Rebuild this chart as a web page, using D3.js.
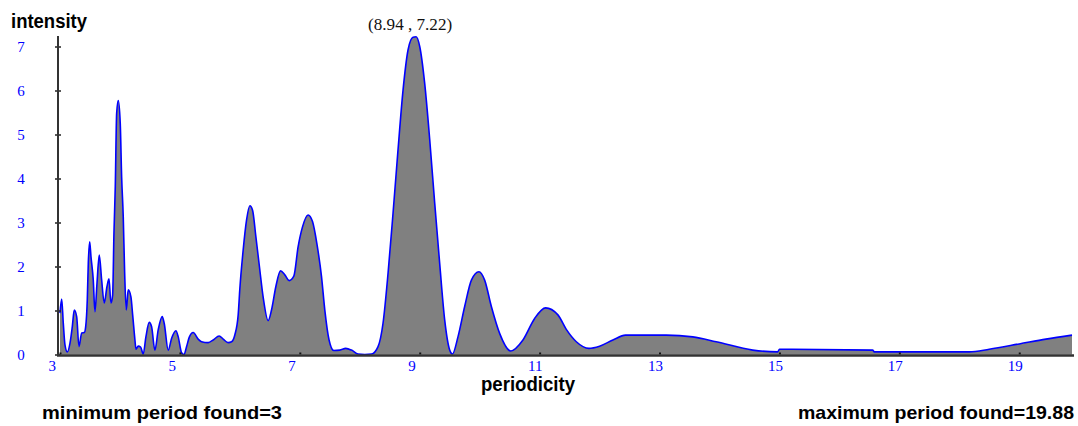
<!DOCTYPE html>
<html>
<head>
<meta charset="utf-8">
<script src="https://cdn.jsdelivr.net/npm/d3@7"></script>
<style>
  html, body { margin: 0; padding: 0; background: #fff; }
  svg { display: block; }
</style>
</head>
<body>
<svg id="chart" width="1078" height="426"></svg>
<script>
// ---- data ----
const periods = [
  3.000, 3.028, 3.055, 3.083, 3.122, 3.167, 3.205, 3.238, 3.278, 3.317,
  3.362, 3.405, 3.428, 3.455, 3.472, 3.495, 3.517, 3.555, 3.583, 3.617,
  3.655, 3.695, 3.738, 3.783, 3.817, 3.850, 3.878, 3.900, 3.922, 3.945,
  3.972, 4.005, 4.028, 4.055, 4.078, 4.105, 4.138, 4.183, 4.212, 4.250,
  4.267, 4.305, 4.345, 4.388, 4.433, 4.488, 4.528, 4.583, 4.638, 4.705,
  4.738, 4.805, 4.862, 4.933, 4.972, 5.028, 5.067, 5.112, 5.155, 5.222,
  5.305, 5.362, 5.472, 5.555, 5.655, 5.722, 5.805, 5.862, 5.917, 5.972,
  6.000, 6.055, 6.112, 6.167, 6.212, 6.267, 6.333, 6.388, 6.472, 6.528,
  6.600, 6.678, 6.750, 6.822, 6.900, 6.972, 7.045, 7.138, 7.212, 7.288,
  7.362, 7.417, 7.488, 7.567, 7.667, 7.767, 7.862, 7.972, 8.083, 8.195,
  8.305, 8.388, 8.472, 8.555, 8.638, 8.722, 8.805, 8.888, 8.940, 9.000,
  9.083, 9.167, 9.250, 9.333, 9.417, 9.500, 9.545, 9.638, 9.750, 9.862,
  9.988, 10.083, 10.195, 10.333, 10.517, 10.722, 10.917, 11.100, 11.305, 11.445,
  11.612, 11.822, 12.000, 12.222, 12.433, 13.112, 13.555, 13.945, 14.555, 14.972,
  15.000, 16.555, 16.583, 18.167, 18.500, 19.000, 19.445, 19.880
];
const intensities = [
  0.94, 1.26, 0.71, 0.22, 0.06, 0.26, 0.63, 1.01, 0.86, 0.18,
  0.49, 0.50, 0.63, 1.24, 2.08, 2.56, 2.22, 1.69, 0.97, 1.62,
  2.26, 1.69, 1.17, 1.54, 1.72, 1.17, 1.35, 2.76, 3.81, 5.48,
  5.77, 5.25, 4.04, 3.13, 1.88, 1.01, 1.47, 1.31, 0.90, 0.33,
  0.12, 0.19, 0.17, 0.01, 0.40, 0.73, 0.63, 0.10, 0.56, 0.86,
  0.71, 0.10, 0.37, 0.54, 0.40, 0.04, 0.00, 0.18, 0.39, 0.50,
  0.35, 0.29, 0.27, 0.33, 0.42, 0.35, 0.27, 0.29, 0.45, 0.90,
  1.50, 2.37, 3.06, 3.38, 3.28, 2.68, 1.92, 1.31, 0.77, 1.01,
  1.54, 1.90, 1.81, 1.68, 1.78, 2.45, 2.90, 3.17, 3.02, 2.49,
  1.77, 1.01, 0.33, 0.09, 0.10, 0.14, 0.10, 0.01, 0.00, 0.01,
  0.18, 0.71, 1.85, 3.21, 4.65, 6.01, 6.92, 7.21, 7.22, 7.00,
  6.16, 4.88, 3.44, 2.07, 0.78, 0.10, 0.01, 0.40, 1.09, 1.69,
  1.88, 1.69, 1.09, 0.48, 0.08, 0.33, 0.82, 1.06, 0.90, 0.57,
  0.29, 0.14, 0.19, 0.33, 0.44, 0.44, 0.40, 0.29, 0.10, 0.06,
  0.12, 0.10, 0.06, 0.06, 0.12, 0.24, 0.35, 0.44
];
const xTicks = [3, 5, 7, 9, 11, 13, 15, 17, 19];
const yTicks = [0, 1, 2, 3, 4, 5, 6, 7];
const peakLabel = "(8.94 , 7.22)";
const peakPoint = [8.94, 7.22];
const yTitle = "intensity";
const xTitle = "periodicity";
const minText = "minimum period found=3";
const maxText = "maximum period found=19.88";

// ---- drawing ----
const svg = d3.select("#chart");
const x = d3.scaleLinear().domain([3, 19.88]).range([60, 1072]);
const y = d3.scaleLinear().domain([0, 7]).range([354.5, 46.5]);
const data = periods.map((p, i) => ({ p, v: intensities[i] }));

const area = d3.area()
  .x(d => x(d.p)).y0(y(0)).y1(d => y(d.v))
  .curve(d3.curveMonotoneX);
const line = d3.line()
  .x(d => x(d.p)).y(d => y(d.v))
  .curve(d3.curveMonotoneX);

svg.append("path").datum(data)
  .attr("d", area)
  .attr("fill", "#808080");
svg.append("path").datum(data)
  .attr("d", line)
  .attr("fill", "none")
  .attr("stroke", "#0000ff")
  .attr("stroke-width", 1.6);

// y axis
const yAxis = svg.append("g")
  .attr("transform", "translate(58,0)")
  .call(d3.axisLeft(y).tickValues(yTicks).tickFormat(d3.format("d")).tickSize(3).tickSizeOuter(0));
yAxis.select(".domain").remove();
yAxis.selectAll(".tick line")
  .attr("x1", -3).attr("x2", 3)
  .attr("stroke", "#222").attr("stroke-width", 1.5);
yAxis.selectAll(".tick text")
  .attr("x", -37).attr("text-anchor", "middle")
  .attr("fill", "#0000ff")
  .style("font-family", "'Liberation Serif', 'Times New Roman', serif")
  .style("font-size", "15px");
svg.append("line")
  .attr("x1", 58).attr("x2", 58)
  .attr("y1", 36).attr("y2", y(0) + 1)
  .attr("stroke", "#333").attr("stroke-width", 2);

// x axis
const xAxis = svg.append("g")
  .attr("transform", `translate(0,${y(0)})`)
  .call(d3.axisBottom(x).tickValues(xTicks).tickFormat(d3.format("d")).tickSize(-2).tickSizeOuter(0));
xAxis.select(".domain").remove();
xAxis.selectAll(".tick line").attr("stroke", "#111").attr("stroke-width", 2);
xAxis.selectAll(".tick text")
  .attr("y", 6).attr("x", -12)
  .attr("text-anchor", "start")
  .attr("fill", "#0000ff")
  .style("font-family", "'Liberation Serif', 'Times New Roman', serif")
  .style("font-size", "15px");
svg.append("line")
  .attr("x1", 57).attr("x2", 1074)
  .attr("y1", y(0) + 1).attr("y2", y(0) + 1)
  .attr("stroke", "#333").attr("stroke-width", 2.5);

// titles
const sans = "'Liberation Sans', Arial, sans-serif";
svg.append("text").text(yTitle)
  .attr("x", 11).attr("y", 28)
  .attr("textLength", 76).attr("lengthAdjust", "spacingAndGlyphs")
  .style("font-family", sans).style("font-size", "20px").style("font-weight", "bold");
svg.append("text").text(xTitle)
  .attr("x", 481).attr("y", 391)
  .attr("textLength", 94).attr("lengthAdjust", "spacingAndGlyphs")
  .style("font-family", sans).style("font-size", "20px").style("font-weight", "bold");
svg.append("text").text(minText)
  .attr("x", 42).attr("y", 419)
  .attr("textLength", 240).attr("lengthAdjust", "spacingAndGlyphs")
  .style("font-family", sans).style("font-size", "19px").style("font-weight", "bold");
svg.append("text").text(maxText)
  .attr("x", 798).attr("y", 419)
  .attr("textLength", 276).attr("lengthAdjust", "spacingAndGlyphs")
  .style("font-family", sans).style("font-size", "19px").style("font-weight", "bold");

// peak annotation
svg.append("text").text(peakLabel)
  .attr("x", x(peakPoint[0]) - 6).attr("y", 30)
  .attr("text-anchor", "middle")
  .attr("textLength", 84).attr("lengthAdjust", "spacingAndGlyphs")
  .style("font-family", "'Liberation Serif', 'Times New Roman', serif")
  .style("font-size", "16px").attr("fill", "#111");
</script>
</body>
</html>
